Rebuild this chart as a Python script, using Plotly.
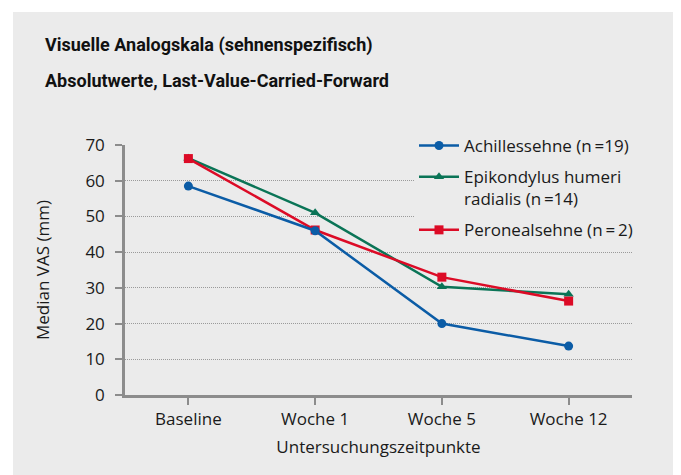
import plotly.graph_objects as go

categories = ["Baseline", "Woche 1", "Woche 5", "Woche 12"]
achilles = [58.5, 46.0, 20.0, 13.7]
epikondylus = [66.3, 51.0, 30.3, 28.2]
peroneal = [66.2, 46.2, 33.0, 26.3]
y_ticks = [0, 10, 20, 30, 40, 50, 60, 70]

names = ["Achillessehne (n\u2009=19)", "Epikondylus humeri<br>radialis (n\u2009=14)", "Peronealsehne (n\u2009=\u20092)"]
colors = ["#0b5ca6", "#0a7456", "#dc0b26"]

FONT = "Open Sans"
TITLE_FONT = "Roboto"

# page has an 8px body margin; the figure is sized so it fills the window
OFF = 8
W, H = 681 - OFF, 475 - OFF
L, R, T, B = 125 - OFF, 49, 145 - OFF, 80
pw, ph = W - L - R, H - T - B

def px_x(x):  # x in window pixels
    return (x - OFF - L) / pw

def px_y(y):  # y in window pixels
    return (H - B - (y - OFF)) / ph

fig = go.Figure()
fig.add_trace(go.Scatter(x=categories, y=epikondylus, name=names[1], mode="lines+markers",
                         line=dict(color=colors[1], width=2.5), legendgroup="b",
                         marker=dict(symbol="triangle-up", size=9, color=colors[1]), legendrank=2))
fig.add_trace(go.Scatter(x=categories, y=peroneal, name=names[2], mode="lines+markers",
                         line=dict(color=colors[2], width=2.5), legendgroup="c",
                         marker=dict(symbol="square", size=9, color=colors[2]), legendrank=3))
fig.add_trace(go.Scatter(x=categories, y=achilles, name=names[0], mode="lines+markers",
                         line=dict(color=colors[0], width=2.5), legendgroup="a",
                         marker=dict(symbol="circle", size=9, color=colors[0]), legendrank=1))

fig.add_shape(type="rect", xref="paper", yref="paper", layer="below",
              x0=px_x(13), x1=px_x(690), y0=px_y(490), y1=px_y(12),
              fillcolor="#ebebeb", line=dict(width=0))

fig.add_annotation(text="<b>Visuelle Analogskala (sehnenspezifisch)</b>", xref="paper", yref="paper",
                   x=px_x(43), y=px_y(45), xanchor="left", yanchor="middle", showarrow=False,
                   font=dict(family=TITLE_FONT, size=18, color="#111"))
fig.add_annotation(text="<b>Absolutwerte, Last-Value-Carried-Forward</b>", xref="paper", yref="paper",
                   x=px_x(43), y=px_y(80), xanchor="left", yanchor="middle", showarrow=False,
                   font=dict(family=TITLE_FONT, size=18, color="#111"))

fig.update_layout(
    width=W, height=H,
    margin=dict(l=L, r=R, t=T, b=B, autoexpand=False),
    paper_bgcolor="white",
    plot_bgcolor="rgba(0,0,0,0)",
    font=dict(family=FONT, size=17, color="#1a1a1a"),
    showlegend=True,
    legend=dict(x=px_x(414), y=px_y(128), xanchor="left", yanchor="top",
                bgcolor="#ebebeb", font=dict(size=17), traceorder="grouped",
                tracegroupgap=6, itemwidth=40, valign="top"),
    xaxis=dict(
        type="category", range=[-0.5, 3.5],
        showline=True, linecolor="#8c8c8c", linewidth=2.5,
        ticks="outside", ticklen=7, tickcolor="#8c8c8c", tickwidth=1.5,
        showgrid=False, automargin=False,
        title=dict(text="Untersuchungszeitpunkte", font=dict(size=17), standoff=12),
    ),
    yaxis=dict(
        range=[0, 70], tickvals=y_ticks,
        showline=True, linecolor="#8c8c8c", linewidth=2.5,
        ticks="outside", ticklen=7, tickcolor="#8c8c8c", tickwidth=1.5,
        showgrid=True, gridcolor="#9a9a9a", gridwidth=1, griddash="1px,1px",
        zeroline=False, automargin=False,
        ticklabelstandoff=7,
        title=dict(text="Median VAS (mm)", font=dict(size=17), standoff=32),
    ),
)

fig.write_html("out.html")
